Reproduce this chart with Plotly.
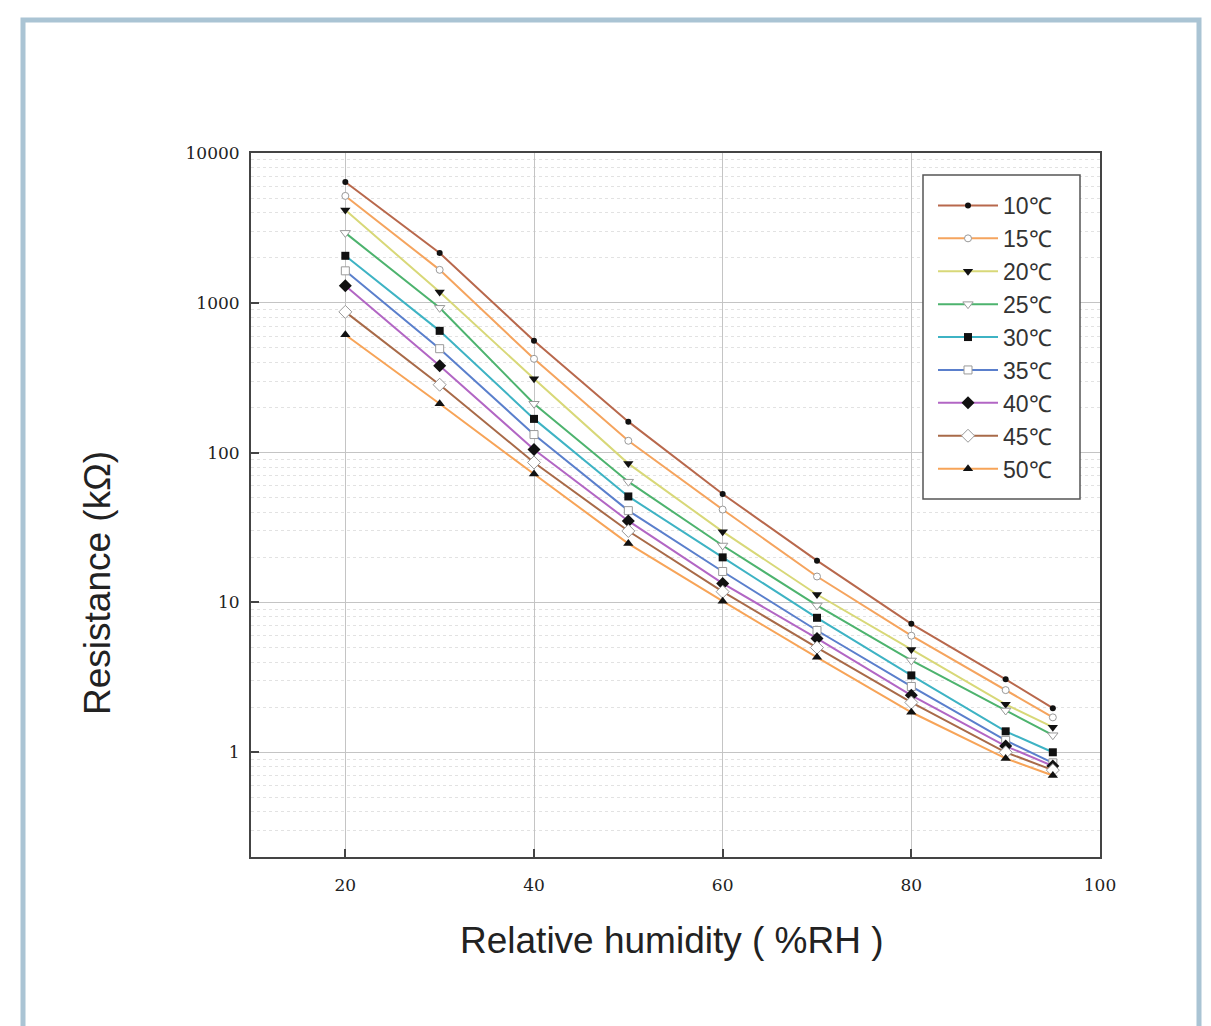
import plotly.graph_objects as go

humidity = [20, 30, 40, 50, 60, 70, 80, 90, 95]
temps = ["10℃", "15℃", "20℃", "25℃", "30℃", "35℃", "40℃", "45℃", "50℃"]

r10 = [6400, 2150, 558, 161, 53, 19.0, 7.2, 3.07, 1.97]
r15 = [5170, 1660, 423, 120, 41.7, 14.9, 6.0, 2.6, 1.71]
r20 = [4170, 1180, 311, 84.5, 29.7, 11.3, 4.86, 2.09, 1.47]
r25 = [2930, 926, 212, 64, 24, 9.55, 4.1, 1.9, 1.3]
r30 = [2060, 650, 168, 51, 20, 7.9, 3.26, 1.38, 1.0]
r35 = [1635, 494, 132, 41, 16.1, 6.5, 2.75, 1.2, 0.85]
r40 = [1300, 380, 105, 35, 13.4, 5.75, 2.4, 1.1, 0.81]
r45 = [870, 284, 86, 30, 11.8, 5.0, 2.15, 1.0, 0.76]
r50 = [612, 212, 72, 24.7, 10.2, 4.3, 1.85, 0.91, 0.70]
series = [r10, r15, r20, r25, r30, r35, r40, r45, r50]

colors = ["#b8684c", "#f5a45e", "#d8d878", "#4db36e", "#3eb3c4",
          "#5a7fcc", "#b266c4", "#a86a48", "#f7a458"]
symbols = ["circle", "circle-open", "triangle-down", "triangle-down-open",
           "square", "square-open", "diamond", "diamond-open", "triangle-up"]
sizes = [6, 7, 9, 9, 8, 8, 10, 10, 9]

fig = go.Figure()
for name, vals, c, s, sz in zip(temps, series, colors, symbols, sizes):
    is_open = s.endswith("open")
    if is_open:
        mk = dict(symbol=s.replace("-open", ""), size=sz, color="white",
                  line=dict(color="#999999", width=1))
    else:
        mk = dict(symbol=s, size=sz, color="#111111", line=dict(color="#111111", width=0))
    fig.add_trace(go.Scatter(
        x=humidity, y=vals, name=name, mode="lines+markers",
        line=dict(color=c, width=2), marker=mk,
    ))

tick_font = dict(family="DejaVu Serif", size=17, color="#222222")
title_font = dict(family="Liberation Sans", size=37, color="#222222")

# page -> paper coordinates (plot area: x 251..1100, y 153..857)
def px(x):
    return (x - 251) / 849

def py(y):
    return (857 - y) / 704

fig.update_layout(
    width=1203, height=1018,
    margin=dict(l=243, r=111, t=145, b=169),
    paper_bgcolor="white", plot_bgcolor="white",
    showlegend=True,
    legend=dict(
        x=px(933), y=py(184), xanchor="left", yanchor="top",
        bgcolor="rgba(0,0,0,0)", borderwidth=0,
        font=dict(family="Liberation Sans Narrow, Liberation Sans", size=23, color="#333333"),
        itemwidth=60,
    ),
    xaxis=dict(
        range=[10, 100], tickvals=[20, 40, 60, 80, 100],
        ticks="inside", ticklen=8, tickwidth=1.5, tickcolor="#444444",
        showline=True, linecolor="#444444", linewidth=2, mirror=True,
        showgrid=True, gridcolor="#c4c4c4", gridwidth=1,
        zeroline=False, tickfont=tick_font, ticklabelstandoff=12,
    ),
    yaxis=dict(
        type="log", range=[-0.699, 4],
        tickvals=[1, 10, 100, 1000, 10000],
        ticktext=["1", "10", "100", "1000", "10000"],
        ticks="inside", ticklen=8, tickwidth=1.5, tickcolor="#444444",
        showline=True, linecolor="#444444", linewidth=2, mirror=True,
        showgrid=True, gridcolor="#c4c4c4", gridwidth=1,
        zeroline=False, tickfont=tick_font, ticklabelstandoff=6,
        minor=dict(tickvals=[v * 10 ** e for e in range(-1, 4) for v in range(2, 10)
                             if 0.2 <= v * 10 ** e <= 10000],
                   showgrid=True, gridcolor="#e2e2e2", griddash="dot", gridwidth=1,
                   ticks=""),
    ),
    annotations=[
        dict(text="Resistance (kΩ)", x=px(97), y=py(583), xref="paper", yref="paper",
             textangle=-90, showarrow=False, xanchor="center", yanchor="middle",
             font=title_font),
        dict(text="Relative humidity ( %RH )", x=px(672), y=py(940), xref="paper", yref="paper",
             showarrow=False, xanchor="center", yanchor="middle", font=title_font),
    ],
    shapes=[
        dict(type="rect", xref="paper", yref="paper",
             x0=px(23), x1=px(1199), y0=py(1045), y1=py(20),
             line=dict(color="#aac4d4", width=5), layer="below"),
        dict(type="rect", xref="paper", yref="paper",
             x0=px(923), x1=px(1080), y0=py(499), y1=py(175),
             fillcolor="white", line=dict(color="#555555", width=1.5), layer="above"),
    ],
)

fig.write_html("out.html")
